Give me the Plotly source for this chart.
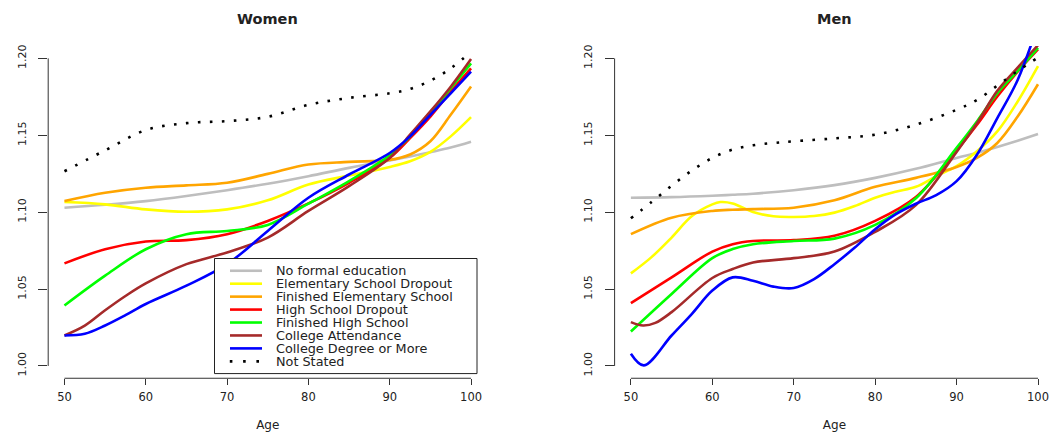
import plotly.graph_objects as go

# ---------------- data ----------------
SERIES = ["No formal education", "Elementary School Dropout", "Finished Elementary School",
          "High School Dropout", "Finished High School", "College Attendance",
          "College Degree or More", "Not Stated"]
COLORS = ["#BEBEBE", "#FFFF00", "#FFA500", "#FF0000", "#00FF00", "#A52A2A", "#0000FF", "#000000"]

X_TICKS = [50, 60, 70, 80, 90, 100]
Y_TICKS = [1.00, 1.05, 1.10, 1.15, 1.20]
Y_TICKTEXT = ["1.00", "1.05", "1.10", "1.15", "1.20"]

# Women
W_AGES = [50, 55, 60, 65, 70, 75, 80, 85, 90, 92.5, 95, 97.5, 100]
w_gray = [1.1029, 1.1048, 1.1072, 1.1105, 1.1143, 1.1185, 1.1234, 1.1288, 1.1336, 1.1362, 1.1390, 1.1420, 1.1458]
w_yellow = [1.1066, 1.1051, 1.1018, 1.1003, 1.1018, 1.1077, 1.1180, 1.1238, 1.1294, 1.1331, 1.1392, 1.1493, 1.1618]
w_orange = [1.1072, 1.1126, 1.1159, 1.1174, 1.1191, 1.1249, 1.1310, 1.1327, 1.1340, 1.1375, 1.1461, 1.1633, 1.1817]
w_red = [1.0667, 1.0759, 1.0809, 1.0818, 1.0857, 1.0943, 1.1057, 1.1191, 1.1353, 1.1482, 1.1622, 1.1784, 1.1935]
w_green = [1.0393, 1.0587, 1.0759, 1.0857, 1.0878, 1.0917, 1.1055, 1.1202, 1.1370, 1.1493, 1.1644, 1.1806, 1.1968]
W_LOW_AGES = [50, 52.5, 55, 57.5, 60, 65, 70, 75, 80, 85, 90, 92.5, 95, 97.5, 100]
w_brown = [1.0198, 1.0262, 1.0362, 1.0455, 1.0537, 1.0662, 1.0738, 1.0835, 1.1008, 1.1169, 1.1353, 1.1504, 1.1655,
           1.1816, 1.1996]
w_blue = [1.0198, 1.0209, 1.0263, 1.0330, 1.0403, 1.0522, 1.0662, 1.0878, 1.1094, 1.1245, 1.1385, 1.1493, 1.1633,
          1.1773, 1.1914]
w_notstated = [1.1266, 1.1402, 1.1534, 1.1579, 1.1592, 1.1620, 1.1698, 1.1743, 1.1773, 1.1801, 1.1855, 1.1935, 1.2043]

# Men
M_AGES = [50, 55, 60, 62.5, 65, 70, 75, 80, 85, 90, 92.5, 95, 97.5, 100]
m_gray = [1.1094, 1.1098, 1.1107, 1.1113, 1.1120, 1.1143, 1.1176, 1.1223, 1.1282, 1.1353, 1.1385, 1.1424, 1.1465, 1.1508]
m_orange = [1.0857, 1.0964, 1.1008, 1.1016, 1.1020, 1.1029, 1.1077, 1.1165, 1.1223, 1.1294, 1.1353, 1.1450, 1.1622, 1.1832]
m_red = [1.0408, 1.0576, 1.0744, 1.0792, 1.0813, 1.0818, 1.0846, 1.0943, 1.1098, 1.1400, 1.1568, 1.1752, 1.1914, 1.2058]
m_green = [1.0224, 1.0468, 1.0701, 1.0760, 1.0792, 1.0813, 1.0828, 1.0917, 1.1090, 1.1418, 1.1590, 1.1774, 1.1918, 1.2069]

M_YELLOW_AGES = [50, 52.5, 55, 57.5, 60, 61, 62.5, 65, 67.5, 70, 72.5, 75, 77.5, 80, 82.5, 85, 87.5, 90, 92.5, 95, 97.5, 100]
m_yellow = [1.0602, 1.0706, 1.0835, 1.0975, 1.1051, 1.1066, 1.1057, 1.1001, 1.0973, 1.0969, 1.0975, 1.0997, 1.1040,
            1.1094, 1.1133, 1.1165, 1.1234, 1.1299, 1.1396, 1.1525, 1.1720, 1.1950]

M_BROWN_AGES = [50, 51.5, 53, 55, 60, 62.5, 65, 70, 75, 80, 85, 90, 92.5, 95, 97.5, 100]
m_brown = [1.0285, 1.0263, 1.0280, 1.0350, 1.0572, 1.0630, 1.0673, 1.0701, 1.0744, 1.0872, 1.1046, 1.1392, 1.1579,
           1.1789, 1.1940, 1.2086]

M_BLUE_AGES = [50, 51.6, 55, 57.5, 60, 62.5, 65, 67.5, 70, 72.5, 75, 77.5, 80, 82.5, 85, 87.5, 90, 92.5, 95, 97.5, 100]
m_blue = [1.0080, 1.0004, 1.0198, 1.0339, 1.0490, 1.0576, 1.0554, 1.0516, 1.0507, 1.0565, 1.0662, 1.0770, 1.0889,
          1.0986, 1.1055, 1.1111, 1.1202, 1.1374, 1.1612, 1.1860, 1.2220]

M_NS_AGES = [50, 52.5, 55, 57.5, 60, 62.5, 65, 67.5, 70, 75, 80, 85, 90, 92.5, 95, 97.5, 100]
m_notstated = [1.0960, 1.1064, 1.1172, 1.1271, 1.1353, 1.1407, 1.1435, 1.1450, 1.1461, 1.1480, 1.1504, 1.1569,
               1.1666, 1.1730, 1.1823, 1.1918, 1.2005]

women = [(W_AGES, w_gray), (W_AGES, w_yellow), (W_AGES, w_orange), (W_AGES, w_red),
         (W_AGES, w_green), (W_LOW_AGES, w_brown), (W_LOW_AGES, w_blue), (W_AGES, w_notstated)]
men = [(M_AGES, m_gray), (M_YELLOW_AGES, m_yellow), (M_AGES, m_orange), (M_AGES, m_red),
       (M_AGES, m_green), (M_BROWN_AGES, m_brown), (M_BLUE_AGES, m_blue), (M_NS_AGES, m_notstated)]

# ---------------- figure ----------------
W, H = 1062, 434
FONT = "DejaVu Sans"
TXT = "#222222"

fig = go.Figure()


def line_style(i):
    if SERIES[i] == "Not Stated":
        return dict(color=COLORS[i], width=2.6, dash="2.6px,9.4px")
    return dict(color=COLORS[i], width=2.6)


for panel, (xa, ya) in zip([women, men], [("x", "y"), ("x2", "y2")]):
    for i, (ages, vals) in enumerate(panel):
        fig.add_trace(go.Scatter(x=ages, y=vals, mode="lines", name=SERIES[i],
                                 line=dict(shape="spline", smoothing=1.0, **line_style(i)),
                                 xaxis=xa, yaxis=ya, showlegend=False, hoverinfo="skip"))


def px_x(p):
    return p / W


def px_y(p):
    return 1 - p / H


XD1 = [px_x(48.2), px_x(487.3)]
XD2 = [px_x(614.6), px_x(1054.3)]
YD = [px_y(378.0), px_y(44.3)]

xcommon = dict(range=[48, 102], tickvals=X_TICKS, ticks="outside", ticklen=6, tickcolor="#333333",
               showline=False, showgrid=False, zeroline=False, ticklabelstandoff=2,
               tickfont=dict(family=FONT, size=11.5, color=TXT),
               title=dict(text="Age", font=dict(family=FONT, size=12, color=TXT), standoff=17))
ycommon = dict(range=[0.992, 1.208], tickvals=Y_TICKS, ticktext=Y_TICKTEXT, tickangle=-90,
               ticks="outside", ticklen=9, tickcolor="#333333", ticklabelstandoff=8,
               showline=False, showgrid=False, zeroline=False,
               tickfont=dict(family=FONT, size=11, color=TXT))

fig.update_layout(
    width=W, height=H,
    margin=dict(l=0, r=0, t=0, b=0),
    paper_bgcolor="white", plot_bgcolor="white",
    showlegend=False,
    xaxis=dict(domain=XD1, anchor="y", **xcommon),
    yaxis=dict(domain=YD, anchor="x", **ycommon),
    xaxis2=dict(domain=XD2, anchor="y2", **xcommon),
    yaxis2=dict(domain=YD, anchor="x2", **ycommon),
)

shapes = []
# R-style axis lines spanning first to last tick
for xa, ya in [("x", "y"), ("x2", "y2")]:
    shapes.append(dict(type="line", xref=xa, yref=ya + " domain", x0=X_TICKS[0], x1=X_TICKS[-1], y0=0, y1=0,
                       line=dict(color="#333333", width=1)))
    shapes.append(dict(type="line", xref=xa + " domain", yref=ya, x0=0, x1=0, y0=Y_TICKS[0], y1=Y_TICKS[-1],
                       line=dict(color="#333333", width=1)))

# legend box (R style) inside the Women panel
LEG_L, LEG_R, LEG_T, LEG_B = 214.5, 477.0, 257.7, 373.3
shapes.append(dict(type="rect", xref="paper", yref="paper", x0=px_x(LEG_L), x1=px_x(LEG_R),
                   y0=px_y(LEG_B), y1=px_y(LEG_T), fillcolor="white", line=dict(color="#222222", width=1),
                   layer="above"))
annotations = []
ROW0, ROWSTEP = 270.0, 13.0
for i, name in enumerate(SERIES):
    yy = px_y(ROW0 + ROWSTEP * i)
    if name == "Not Stated":
        shapes.append(dict(type="line", xref="paper", yref="paper", x0=px_x(229.8), x1=px_x(259.5), y0=yy, y1=yy,
                           line=dict(color=COLORS[i], width=2.6, dash="2.6px,10.7px"), layer="above"))
    else:
        shapes.append(dict(type="line", xref="paper", yref="paper", x0=px_x(230), x1=px_x(262), y0=yy, y1=yy,
                           line=dict(color=COLORS[i], width=2.6), layer="above"))
    annotations.append(dict(text=name, xref="paper", yref="paper", x=px_x(274), y=yy, xanchor="left",
                            yanchor="middle", showarrow=False, font=dict(family=FONT, size=12.8, color=TXT)))

# panel titles
for title, dom in [("Women", XD1), ("Men", XD2)]:
    annotations.append(dict(text="<b>" + title + "</b>", xref="paper", yref="paper", x=(dom[0] + dom[1]) / 2,
                            y=px_y(17.5), xanchor="center", yanchor="middle", showarrow=False,
                            font=dict(family=FONT, size=14.5, color=TXT)))

fig.update_layout(shapes=shapes, annotations=annotations)

fig.write_html("out.html")
